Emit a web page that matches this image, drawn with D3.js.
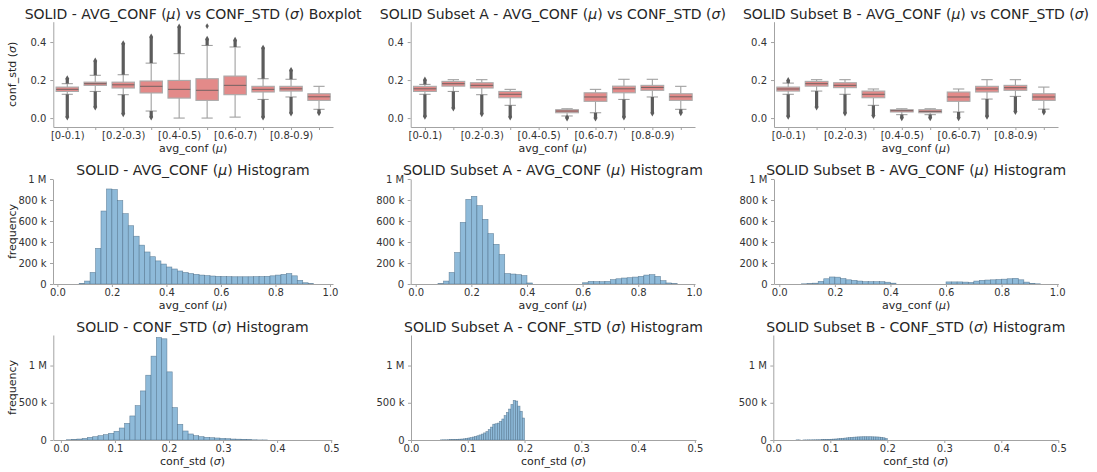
<!DOCTYPE html>
<html>
<head>
<meta charset="utf-8">
<script src="https://cdn.jsdelivr.net/npm/d3@7"></script>
<style>
  body { margin: 0; background: #fff; }
  svg { display: block; font-family: "DejaVu Sans", sans-serif; }
</style>
</head>
<body>
<div id="chart"></div>
<script>

// ---- box plots: avg_conf buckets vs conf_std ----
var boxCats = ["[0-0.1)", "[0.1-0.2)", "[0.2-0.3)", "[0.3-0.4)", "[0.4-0.5)",
               "[0.5-0.6)", "[0.6-0.7)", "[0.7-0.8)", "[0.8-0.9)", "[0.9-1.0]"];
var boxTickLabels = ["[0-0.1)", "", "[0.2-0.3)", "", "[0.4-0.5)", "", "[0.6-0.7)", "", "[0.8-0.9)", ""];
var boxYTicks = [0, 0.2, 0.4];

// each row: [q1, median, q3, whiskerLow, whiskerHigh, lowestFlier, highestFlier]
var solidBox = [
  [0.140, 0.151, 0.163, 0.125, 0.181, 0.005, 0.207],
  [0.172, 0.181, 0.189, 0.140, 0.225, 0.058, 0.300],
  [0.158, 0.175, 0.189, 0.123, 0.228, 0.023, 0.391],
  [0.132, 0.167, 0.195, 0.037, 0.289, 0.005, 0.426],
  [0.105, 0.151, 0.198, 0.000, 0.339, null, 0.479],
  [0.093, 0.146, 0.207, 0.000, 0.382, null, 0.415],
  [0.123, 0.172, 0.221, 0.005, 0.374, null, 0.409],
  [0.137, 0.151, 0.167, 0.098, 0.207, 0.005, 0.368],
  [0.142, 0.154, 0.167, 0.111, 0.204, 0.026, 0.251],
  [0.093, 0.112, 0.128, 0.046, 0.167, 0.028, null]
];
var solidStray = [[5, 0.484]];

var subsetABox = [
  [0.140, 0.154, 0.167, 0.125, 0.177, 0.009, 0.200],
  [0.168, 0.181, 0.193, 0.140, 0.202, 0.053, null],
  [0.158, 0.172, 0.186, 0.123, 0.202, 0.023, null],
  [0.107, 0.125, 0.140, 0.067, 0.151, 0.005, null],
  null,
  [0.028, 0.037, 0.044, 0.011, 0.049, 0.000, null],
  [0.088, 0.111, 0.133, 0.028, 0.151, 0.000, null],
  [0.133, 0.154, 0.168, 0.098, 0.204, 0.005, null],
  [0.146, 0.161, 0.172, 0.111, 0.204, 0.026, null],
  [0.093, 0.112, 0.128, 0.046, 0.167, 0.028, null]
];

var subsetBBox = [
  [0.142, 0.153, 0.163, 0.125, 0.184, 0.009, 0.198],
  [0.168, 0.181, 0.193, 0.142, 0.202, 0.058, null],
  [0.160, 0.172, 0.186, 0.125, 0.202, 0.026, null],
  [0.107, 0.125, 0.142, 0.067, 0.153, 0.014, null],
  [0.032, 0.039, 0.044, 0.018, 0.049, 0.002, null],
  [0.028, 0.035, 0.044, 0.018, 0.049, 0.002, null],
  [0.088, 0.111, 0.137, 0.032, 0.153, 0.002, null],
  [0.137, 0.153, 0.167, 0.100, 0.202, 0.009, null],
  [0.146, 0.160, 0.172, 0.114, 0.202, 0.035, null],
  [0.093, 0.111, 0.128, 0.047, 0.163, 0.032, null]
];

// ---- histograms of avg_conf (counts in thousands, bins of 0.02 from 0) ----
var avgBinStart = 0, avgBinWidth = 0.02;
var avgXTicks = [0, 0.2, 0.4, 0.6, 0.8, 1.0];
var avgYTicks = [0, 200000, 400000, 600000, 800000, 1000000];
var solidAvgHist = [0, 0, 0, 0, 5, 28, 110, 340, 695, 905,
                    900, 795, 670, 555, 455, 370, 305, 260, 220, 190,
                    162, 143, 124, 110, 100, 92, 85, 80, 76, 73,
                    71, 70, 69, 69, 69, 69, 70, 71, 73, 78,
                    85, 92, 100, 78, 35, 12, 3, 0, 0, 0];
var subsetAAvgHist = [0, 0, 0, 0, 3, 28, 110, 300, 587, 806,
                      835, 746, 616, 480, 378, 280, 100, 95, 89, 80,
                      10, 0, 0, 0, 0, 0, 0, 0, 0, 0,
                      12, 25, 23, 22, 25, 42, 50, 57, 60, 66,
                      73, 85, 89, 73, 32, 10, 3, 0, 0, 0];
var subsetBAvgHist = [0, 0, 0, 0, 2, 3, 8, 25, 50, 67,
                      65, 52, 40, 35, 28, 22, 22, 22, 22, 17,
                      8, 0, 0, 0, 0, 0, 0, 0, 0, 0,
                      20, 20, 20, 18, 15, 28, 35, 38, 40, 43,
                      46, 50, 54, 40, 18, 6, 2, 0, 0, 0];

// ---- histograms of conf_std (counts in thousands) ----
var stdXTicks = [0, 0.1, 0.2, 0.3, 0.4, 0.5];
var stdYTicks = [0, 500000, 1000000];
var solidStdBinStart = 0.01, solidStdBinWidth = 0.0098;
var solidStdHist = [4, 8, 13, 22, 36, 45, 58, 72, 90, 117,
                    161, 224, 323, 462, 659, 870, 1126, 1377, 1359, 915,
                    435, 211, 121, 81, 58, 45, 36, 31, 27, 22,
                    18, 13, 11, 9, 5, 3, 1, 1, 0, 0,
                    0, 0, 0, 0, 0, 0, 0, 0, 0, 0];
var subsetStdBinStart = 0, subsetStdBinWidth = 0.004;
var subsetAStdHist = [0, 0, 0, 0, 0, 0, 0, 0, 0, 0,
                      0, 0, 0, 2, 3, 3, 4, 5, 6, 8,
                      9, 11, 13, 16, 21, 27, 32, 40, 48, 57,
                      68, 80, 95, 112, 140, 173, 212, 218, 227, 250,
                      282, 327, 370, 415, 477, 532, 523, 455, 386, 295];
var subsetBStdHist = [0, 0, 0, 0, 0, 0, 0, 0, 0, 0,
                      2, 1, 0, 1, 1, 2, 2, 3, 3, 4,
                      4, 5, 6, 7, 8, 10, 12, 14, 17, 20,
                      23, 26, 29, 32, 35, 38, 40, 42, 43, 44,
                      44, 44, 44, 43, 42, 41, 39, 36, 30, 20];

var W = 1097, H = 472;
var svg = d3.select("#chart").append("svg")
    .attr("width", W)
    .attr("height", H);
svg.append("rect").attr("width", W).attr("height", H).attr("fill", "#fff");

var axisColor = "#a3a3a3",
    textColor = "#333",
    boxFill = "#e38a89",
    histFill = "#8ebad9",
    histEdge = "#4a6b85";

// write a label, greek letters in italic like matplotlib mathtext
function addText(sel, str) {
  str.split(/([μσ])/).forEach(function(part) {
    if (!part) return;
    var t = sel.append("tspan").text(part);
    if (part == "μ" || part == "σ") t.style("font-style", "italic");
  });
  return sel;
}

function engFormat(v) {
  if (v == 0) return "0";
  if (v >= 1e6) return (v / 1e6) + " M";
  return (v / 1e3) + " k";
}

function styleAxis(g) {
  g.select(".domain").attr("stroke", axisColor).attr("stroke-width", 1);
  g.selectAll(".tick line").attr("stroke", axisColor);
  g.selectAll(".tick text").attr("fill", textColor).style("font-size", "10px")
    .style("font-family", "DejaVu Sans");
}

function titles(f, title, xlabel, ylabel, titleY) {
  var cx = (f.x0 + f.x1) / 2;
  addText(svg.append("text")
      .attr("x", cx).attr("y", titleY)
      .attr("text-anchor", "middle")
      .attr("fill", "#262626")
      .style("font-size", "14px"), title);
  addText(svg.append("text")
      .attr("x", cx).attr("y", f.y1 + 24.5)
      .attr("text-anchor", "middle")
      .attr("fill", "#262626")
      .style("font-size", "11px"), xlabel);
  if (ylabel) {
    addText(svg.append("text")
        .attr("transform", "translate(16," + ((f.y0 + f.y1) / 2) + ") rotate(-90)")
        .attr("text-anchor", "middle")
        .attr("fill", "#262626")
        .style("font-size", "11px"), ylabel);
  }
}

function boxPanel(f, stats, strays, title, ylabel) {
  var x = d3.scaleLinear().domain([-0.5, boxCats.length - 0.5]).range([f.x0, f.x1]);
  var y = d3.scaleLinear().domain([-0.047, 0.507]).range([f.y1, f.y0]);
  var bw = (x(1) - x(0)) * 0.8;

  var g = svg.append("g");
  stats.forEach(function(s, i) {
    if (!s) return;
    var cx = x(i);
    // whiskers + caps
    [[s[0], s[3]], [s[2], s[4]]].forEach(function(w) {
      g.append("line").attr("x1", cx).attr("x2", cx)
        .attr("y1", y(w[0])).attr("y2", y(w[1]))
        .attr("stroke", "#a0a0a0").attr("stroke-width", 1.1);
      g.append("line").attr("x1", cx - bw / 4).attr("x2", cx + bw / 4)
        .attr("y1", y(w[1])).attr("y2", y(w[1]))
        .attr("stroke", "#a0a0a0").attr("stroke-width", 1.1);
    });
    g.append("rect")
      .attr("x", cx - bw / 2).attr("width", bw)
      .attr("y", y(s[2])).attr("height", y(s[0]) - y(s[2]))
      .attr("fill", boxFill)
      .attr("stroke", "#aaaaaa").attr("stroke-width", 1.1);
    g.append("line").attr("x1", cx - bw / 2).attr("x2", cx + bw / 2)
      .attr("y1", y(s[1])).attr("y2", y(s[1]))
      .attr("stroke", "#7d6565").attr("stroke-width", 1.1);
    // fliers: thousands of overlapping diamonds, drawn as a dense streak
    [[s[3], s[5]], [s[4], s[6]]].forEach(function(fl) {
      if (fl[1] == null) return;
      g.append("line").attr("x1", cx).attr("x2", cx)
        .attr("y1", y(fl[0])).attr("y2", y(fl[1]))
        .attr("stroke", "#5c5c5c").attr("stroke-width", 3.2);
      g.append("path")
        .attr("transform", "translate(" + cx + "," + y(fl[1]) + ")")
        .attr("d", d3.symbol(d3.symbolDiamond, 14)())
        .attr("fill", "#5c5c5c");
    });
  });
  (strays || []).forEach(function(p) {
    g.append("path")
      .attr("transform", "translate(" + x(p[0]) + "," + y(p[1]) + ")")
      .attr("d", d3.symbol(d3.symbolDiamond, 10)())
      .attr("fill", "#5c5c5c");
  });

  svg.append("g")
    .attr("transform", "translate(0," + f.y1 + ")")
    .call(d3.axisBottom(x).tickValues(d3.range(boxCats.length))
      .tickFormat(function(d) { return boxTickLabels[d]; })
      .tickSize(3).tickSizeOuter(0).tickPadding(1.5))
    .call(styleAxis);
  svg.append("g")
    .attr("transform", "translate(" + f.x0 + ",0)")
    .call(d3.axisLeft(y).tickValues(boxYTicks).tickFormat(d3.format(".1f"))
      .tickSize(3).tickSizeOuter(0).tickPadding(4))
    .call(styleAxis);

  titles(f, title, "avg_conf (μ)", ylabel, 19);
}

function histPanel(f, counts, binStart, binWidth, xDomain, xTicks, yMax, yTicks, title, xlabel, ylabel, titleY) {
  var x = d3.scaleLinear().domain(xDomain).range([f.x0, f.x1]);
  var y = d3.scaleLinear().domain([0, yMax]).range([f.y1, f.y0]);

  svg.append("g").selectAll("rect")
    .data(counts)
    .enter().append("rect")
      .attr("x", function(d, i) { return x(binStart + i * binWidth); })
      .attr("width", function(d, i) { return x(binStart + (i + 1) * binWidth) - x(binStart + i * binWidth); })
      .attr("y", function(d) { return y(d * 1000); })
      .attr("height", function(d) { return y(0) - y(d * 1000); })
      .attr("fill", histFill)
      .attr("stroke", histEdge)
      .attr("stroke-opacity", 0.75)
      .attr("stroke-width", 0.6);

  svg.append("g")
    .attr("transform", "translate(0," + f.y1 + ")")
    .call(d3.axisBottom(x).tickValues(xTicks).tickFormat(d3.format(".1f"))
      .tickSize(3).tickSizeOuter(0).tickPadding(1.5))
    .call(styleAxis);
  svg.append("g")
    .attr("transform", "translate(" + f.x0 + ",0)")
    .call(d3.axisLeft(y).tickValues(yTicks).tickFormat(engFormat)
      .tickSize(3).tickSizeOuter(0).tickPadding(3.5))
    .call(styleAxis);

  titles(f, title, xlabel, ylabel, titleY);
}

// panel frames (spine extents)
var fA1 = {x0: 53.3, x1: 333, y0: 21.7, y1: 127},
    fB1 = {x0: 410.7, x1: 695, y0: 21.7, y1: 127},
    fC1 = {x0: 774, x1: 1058, y0: 21.7, y1: 127},
    fA2 = {x0: 53, x1: 333, y0: 179, y1: 284},
    fB2 = {x0: 410.7, x1: 695, y0: 179, y1: 284},
    fC2 = {x0: 774, x1: 1058.3, y0: 179, y1: 284},
    fA3 = {x0: 53.3, x1: 331.7, y0: 335, y1: 440},
    fB3 = {x0: 411, x1: 696, y0: 335, y1: 440},
    fC3 = {x0: 773.3, x1: 1058.3, y0: 335, y1: 440};

boxPanel(fA1, solidBox, solidStray, "SOLID - AVG_CONF (μ) vs CONF_STD (σ) Boxplot", "conf_std (σ)");
boxPanel(fB1, subsetABox, null, "SOLID Subset A - AVG_CONF (μ) vs CONF_STD (σ)", null);
boxPanel(fC1, subsetBBox, null, "SOLID Subset B - AVG_CONF (μ) vs CONF_STD (σ)", null);

histPanel(fA2, solidAvgHist, avgBinStart, avgBinWidth, [-0.016, 1.011], avgXTicks, 1e6, avgYTicks,
  "SOLID - AVG_CONF (μ) Histogram", "avg_conf (μ)", "frequency", 175);
histPanel(fB2, subsetAAvgHist, avgBinStart, avgBinWidth, [-0.018, 1.004], avgXTicks, 1e6, avgYTicks,
  "SOLID Subset A - AVG_CONF (μ) Histogram", "avg_conf (μ)", null, 175);
histPanel(fC2, subsetBAvgHist, avgBinStart, avgBinWidth, [-0.019, 1.004], avgXTicks, 1e6, avgYTicks,
  "SOLID Subset B - AVG_CONF (μ) Histogram", "avg_conf (μ)", null, 175);

histPanel(fA3, solidStdHist, solidStdBinStart, solidStdBinWidth, [-0.014, 0.501], stdXTicks, 1.41e6, stdYTicks,
  "SOLID - CONF_STD (σ) Histogram", "conf_std (σ)", "frequency", 332);
histPanel(fB3, subsetAStdHist, subsetStdBinStart, subsetStdBinWidth, [0, 0.502], stdXTicks, 1.41e6, stdYTicks,
  "SOLID Subset A - CONF_STD (σ) Histogram", "conf_std (σ)", null, 332);
histPanel(fC3, subsetBStdHist, subsetStdBinStart, subsetStdBinWidth, [0, 0.5], stdXTicks, 1.41e6, stdYTicks,
  "SOLID Subset B - CONF_STD (σ) Histogram", "conf_std (σ)", null, 332);

</script>
</body>
</html>
